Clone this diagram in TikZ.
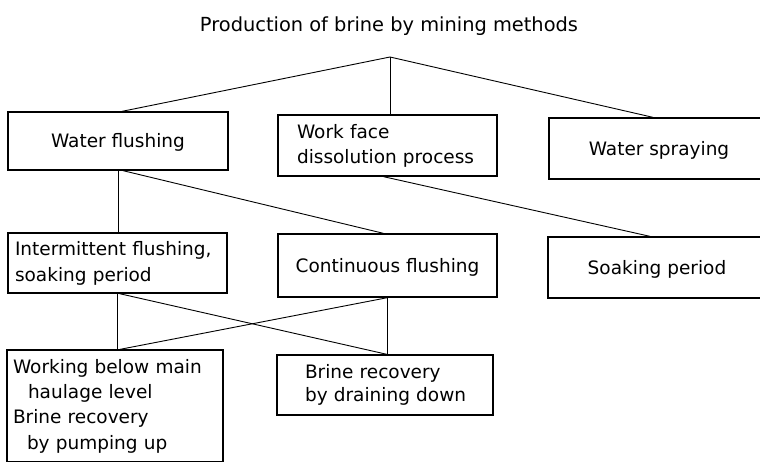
\documentclass[tikz,border=0pt]{standalone}
\usepackage{fontspec}
\setmainfont{DejaVu Sans}
\begin{document}
\begin{tikzpicture}[x=1pt,y=-1pt]
\tikzset{
  box/.style={draw, line width=1.3pt, rectangle, inner sep=0pt},
  one/.style={font=\fontsize{18.5}{25}\selectfont, text height=13.5pt, text depth=0pt, inner sep=0pt},
  multi/.style={align=left},
  conn/.style={line width=0.9pt},
}
\useasboundingbox (0,0) rectangle (760,462);
\node[one, font=\fontsize{19.4}{24}\selectfont, text height=14pt] (title) at (389,25) {Production of brine by mining methods};

\node[box,one,minimum width=220pt,minimum height=58pt] (wf) at (118,141) {Water flushing};
\node[box,multi,font=\fontsize{18.5}{25}\selectfont,text width=181pt,inner xsep=19pt,minimum height=61pt] (wd) at (387.5,145.5) {Work face\\dissolution process};
\node[box,one,minimum width=220pt,minimum height=61pt] (ws) at (659,148.5) {Water spraying};

\node[box,multi,font=\fontsize{18.5}{26}\selectfont,text width=205pt,inner xsep=7pt,minimum height=60pt] (inter) at (117.5,263) {Intermittent flushing,\\soaking period};
\node[box,one,minimum width=219pt,minimum height=63pt] (cont) at (387.5,265.5) {Continuous flushing};
\node[box,one,minimum width=218pt,minimum height=61pt] (soak) at (657,267.5) {Soaking period};

\node[box,multi,font=\fontsize{18.5}{25.3}\selectfont,text width=204pt,inner xsep=6pt,minimum height=112pt] (work) at (115,406) {Working below main\\\hspace*{15pt}haulage level\\Brine recovery\\\hspace*{14pt}by pumping up};
\node[box,multi,font=\fontsize{18.5}{23.5}\selectfont,text width=160pt,inner xsep=28pt,minimum height=60pt] (drain) at (385,385) {\mbox{Brine recovery}\\\mbox{by draining down}};

\coordinate (apex) at (390,57);
\draw[conn] ([xshift=4pt]wf.north) -- (apex) -- ([xshift=-6pt]ws.north);
\draw[conn] (apex) -- (apex |- wd.north);

\draw[conn] (wf.south) -- (wf.south |- inter.north);
\draw[conn] ([xshift=5pt]wf.south) -- ([xshift=-4pt]cont.north);
\draw[conn] ([xshift=-4pt]wd.south) -- ([xshift=-7pt]soak.north);

\draw[conn] (inter.south) -- (inter.south |- work.north);
\draw[conn] ([xshift=2pt]inter.south) -- ([xshift=2pt]drain.north);
\draw[conn] (cont.south) -- ([xshift=5pt]work.north);
\draw[conn] (cont.south) -- (cont.south |- drain.north);
\end{tikzpicture}
\end{document}
